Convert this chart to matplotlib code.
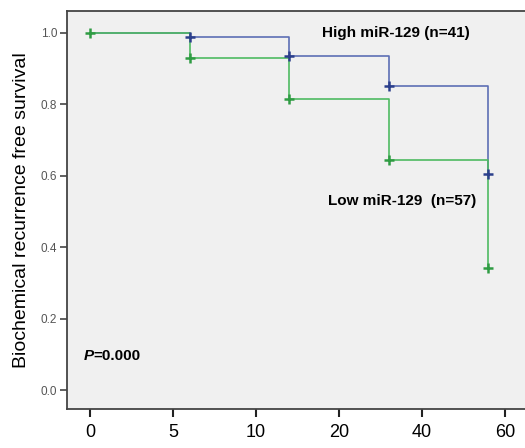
import numpy as np
import matplotlib
matplotlib.use("Agg")
import matplotlib.pyplot as plt

plt.rcParams["font.family"] = ["Liberation Sans", "DejaVu Sans"]

# Kaplan-Meier step data (months)
times = [0, 12, 24, 36, 48]
surv_high = [1.0, 0.988, 0.936, 0.852, 0.606]
surv_low = [1.0, 0.930, 0.816, 0.645, 0.341]

xtick_pos = [0, 10, 20, 30, 40, 50]
xtick_labels = ["0", "5", "10", "20", "40", "60"]
ytick_pos = [0.0, 0.2, 0.4, 0.6, 0.8, 1.0]

BLUE, BLUE_M = "#5d6fb4", "#2c3f8c"
GREEN, GREEN_M = "#4fba62", "#2f9c43"

fig = plt.figure(figsize=(5.25, 4.48), dpi=100)
ax = fig.add_axes([0.1276, 0.0871, 0.8724, 0.8883])
ax.set_facecolor("#f0f0f0")

ax.step(times, surv_high, where="post", color=BLUE, lw=1.2, zorder=2)
ax.step(times, surv_low, where="post", color=GREEN, lw=1.2, zorder=3)
ax.plot(times[1:], surv_high[1:], "+", color=BLUE_M, ms=6.5, mew=1.8, zorder=4)
ax.plot(times, surv_low, "+", color=GREEN_M, ms=6.5, mew=1.8, zorder=4)

ax.set_xlim(-2.77, 52.4)
ax.set_ylim(-0.053, 1.061)

ax.set_xticks(xtick_pos)
ax.set_xticklabels(xtick_labels, fontsize=13, color="black")
ax.tick_params(axis="x", length=6, width=1.5, color="#222222", pad=5)
ax.set_yticks(ytick_pos)
ax.set_yticklabels([f"{v:.1f}" for v in ytick_pos], fontsize=8.5, color="#555555")
ax.tick_params(axis="y", length=5, width=1.2, color="#444444", pad=2)

for side in ["left", "bottom", "top"]:
    ax.spines[side].set_color("#444444")
    ax.spines[side].set_linewidth(1.3)
ax.spines["right"].set_visible(False)

ax.set_ylabel("Biochemical recurrence free survival", fontsize=14, labelpad=8)

ax.text(28, 1.0, "High miR-129 (n=41)", fontsize=11, fontweight="bold", va="center")
ax.text(28.7, 0.53, "Low miR-129  (n=57)", fontsize=11, fontweight="bold", va="center")
ax.text(-0.8, 0.095, "P", fontsize=11, fontweight="bold", fontstyle="italic", va="center")
ax.text(0.45, 0.095, "=0.000", fontsize=11, fontweight="bold", va="center")

fig.savefig("out.png", dpi=100)
